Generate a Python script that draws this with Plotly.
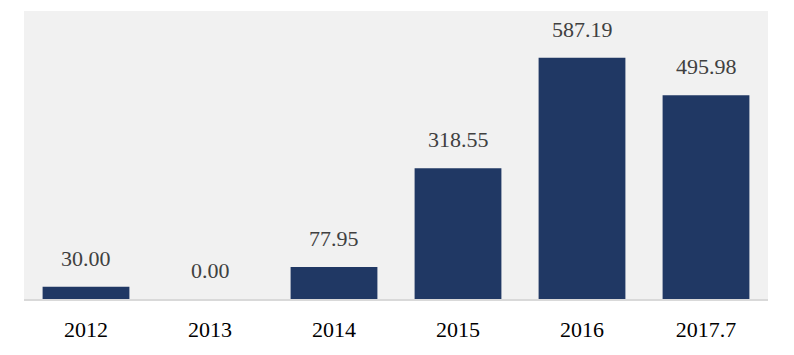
import plotly.graph_objects as go

categories = ["2012", "2013", "2014", "2015", "2016", "2017.7"]
values = [30.00, 0.00, 77.95, 318.55, 587.19, 495.98]
labels = ["30.00", "0.00", "77.95", "318.55", "587.19", "495.98"]

fig = go.Figure()
fig.add_trace(go.Bar(
    x=categories, y=values,
    marker=dict(color="#203864", line=dict(width=0)),
    width=0.7,
    hoverinfo="skip",
))

for i, (v, t) in enumerate(zip(values, labels)):
    fig.add_annotation(
        x=i, y=v, text=t, showarrow=False,
        xref="x", yref="y",
        yanchor="bottom", yshift=14,
        font=dict(family="Liberation Serif, serif", size=22, color="#404040"),
    )

fig.update_layout(
    width=794, height=355,
    margin=dict(l=16, r=34, t=3, b=64),
    paper_bgcolor="white",
    plot_bgcolor="#f1f1f1",
    showlegend=False,
    bargap=0.3,
)
fig.update_xaxes(
    type="category",
    range=[-0.5, len(categories) - 0.5],
    showline=True, linecolor="#d9d9d9", linewidth=2,
    ticks="outside", ticklen=10, tickcolor="rgba(0,0,0,0)",
    tickfont=dict(family="Liberation Serif, serif", size=22, color="black"),
    showgrid=False,
)
fig.update_yaxes(
    range=[0, 701], visible=False, showgrid=False, zeroline=False,
)

fig.write_html("out.html")
